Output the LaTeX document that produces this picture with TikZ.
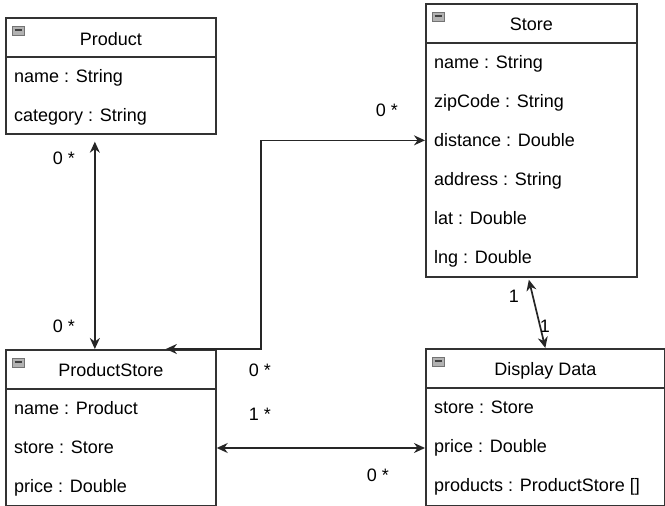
\documentclass[tikz,border=0pt]{standalone}
\usepackage{fontspec}
\setmainfont{Liberation Sans}
\usetikzlibrary{arrows.meta}

\tikzset{
    classbox/.style={draw=black!80, line width=1.7pt, anchor=north west, inner sep=0pt},
    divider/.style={draw=black!80, line width=1.7pt},
    title/.style={inner sep=0pt, text height=13pt, text depth=4pt, font=\fontsize{18}{20}\selectfont},
    attr/.style={anchor=west, inner sep=0pt, text height=13pt, text depth=4pt, font=\fontsize{18}{20}\selectfont},
    mult/.style={inner sep=0pt, font=\fontsize{18}{20}\selectfont},
    minusicon/.style={draw=black!55, fill=black!30, line width=.8pt, minimum width=12pt,
        minimum height=9pt, inner sep=0pt,
        path picture={\draw[black!75, line width=1.2pt]
            ([xshift=2.5pt,yshift=1pt]path picture bounding box.west) --
            ([xshift=-2.5pt,yshift=1pt]path picture bounding box.east);}},
    assoc/.style={draw=black!85, line width=1.7pt,
        {Stealth[length=11pt,width=10pt]}-{Stealth[length=11pt,width=10pt]}}
}

\begin{document}
\begin{tikzpicture}[x=1pt, y=-1pt]
    \useasboundingbox (0,0) rectangle (665,506);

    % class boxes
    \node[classbox, minimum width=210pt, minimum height=116pt] (product) at (5,17) {};
    \node[classbox, minimum width=211pt, minimum height=273pt] (store) at (425,3) {};
    \node[classbox, minimum width=210pt, minimum height=156pt] (prodstore) at (5,349) {};
    \node[classbox, minimum width=239pt, minimum height=157pt] (display) at (425,348) {};

    \foreach \b in {product,store,prodstore,display}
        {\draw[divider] ([yshift=-40pt]\b.north west) -- ([yshift=-40pt]\b.north east);
         \node[minusicon] (\b-icon) at ([xshift=13pt,yshift=-14pt]\b.north west) {};}

    \node[title] (product-title) at ([yshift=-24pt]product.north) {Product};
    \node[title] (store-title) at ([yshift=-23pt]store.north) {Store};
    \node[title] (prodstore-title) at ([yshift=-23pt]prodstore.north) {ProductStore};
    \node[title] (display-title) at ([yshift=-23pt]display.north) {Display Data};

    \foreach \t [count=\i] in {name : String, category : String}
        {\node[attr] (product-\i) at ([xshift=9pt,yshift={-22pt-39pt*\i}]product.north west) {\t};}
    \foreach \t [count=\i] in {name : String, zipCode : String, distance : Double,
                               address : String, lat : Double, lng : Double}
        {\node[attr] (store-\i) at ([xshift=9pt,yshift={-22pt-39pt*\i}]store.north west) {\t};}
    \foreach \t [count=\i] in {name : Product, store : Store, price : Double}
        {\node[attr] (prodstore-\i) at ([xshift=9pt,yshift={-22pt-39pt*\i}]prodstore.north west) {\t};}
    \foreach \t [count=\i] in {store : Store, price : Double, products : ProductStore []}
        {\node[attr] (display-\i) at ([xshift=9pt,yshift={-22pt-39pt*\i}]display.north west) {\t};}

    % associations
    \draw[assoc] ([xshift=-16pt,yshift=-7pt]product.south) -- ([xshift=-16pt]prodstore.north);
    \draw[assoc] ([xshift=55pt]prodstore.north) -- ++(95,0) |- (store.west);
    \draw[assoc] ([xshift=-2.5pt,yshift=-2pt]store.south) -- (display.north);
    \draw[assoc] (prodstore.east |- display-2.west) -- (display.west |- display-2.west);

    % multiplicities
    \node[mult] (m-prod) at (64,158) {0 *};
    \node[mult] (m-prodps) at (64,326) {0 *};
    \node[mult] (m-store) at (387,110) {0 *};
    \node[mult] (m-storeps) at (260,370) {0 *};
    \node[mult] (m-storedd) at (514,296) {1};
    \node[mult] (m-ddstore) at (545,326) {1};
    \node[mult] (m-psdd) at (260,414) {1 *};
    \node[mult] (m-ddps) at (378,475) {0 *};
\end{tikzpicture}
\end{document}
